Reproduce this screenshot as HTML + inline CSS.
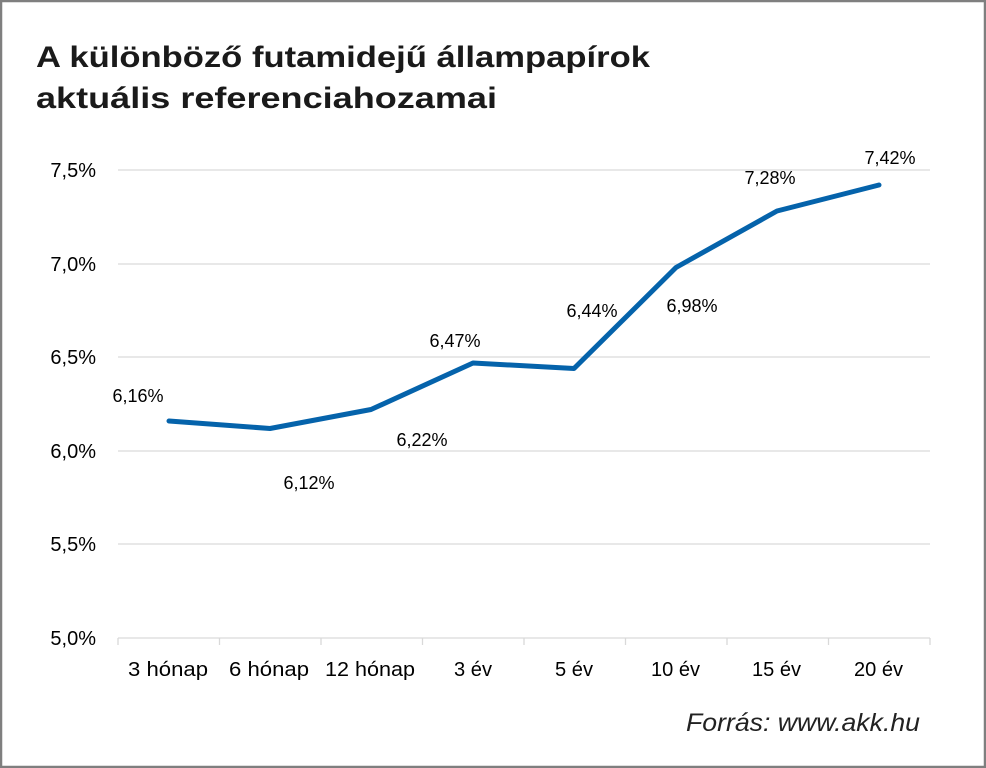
<!DOCTYPE html>
<html><head><meta charset="utf-8"><style>
html,body{margin:0;padding:0;background:#fff;}
svg{display:block;}
</style></head><body>
<svg width="986" height="768" viewBox="0 0 986 768" xmlns="http://www.w3.org/2000/svg">
<rect x="1" y="1" width="984" height="766" fill="#fff" stroke="#7f7f7f" stroke-width="2.5"/>
<g font-family="'Liberation Sans','DejaVu Sans',sans-serif" font-weight="bold" font-size="30" fill="#1a1a1a">
<text x="36" y="67" textLength="614" lengthAdjust="spacingAndGlyphs">A különböző futamidejű állampapírok</text>
<text x="36" y="108" textLength="461" lengthAdjust="spacingAndGlyphs">aktuális referenciahozamai</text>
</g>
<g stroke="#d9d9d9" stroke-width="1.3">
<line x1="118" y1="170" x2="930" y2="170"/>
<line x1="118" y1="264" x2="930" y2="264"/>
<line x1="118" y1="357" x2="930" y2="357"/>
<line x1="118" y1="451" x2="930" y2="451"/>
<line x1="118" y1="544" x2="930" y2="544"/>
<line x1="118" y1="638" x2="930" y2="638"/>
<line x1="118" y1="638" x2="118" y2="645"/>
<line x1="219.5" y1="638" x2="219.5" y2="645"/>
<line x1="321" y1="638" x2="321" y2="645"/>
<line x1="422.5" y1="638" x2="422.5" y2="645"/>
<line x1="524" y1="638" x2="524" y2="645"/>
<line x1="625.5" y1="638" x2="625.5" y2="645"/>
<line x1="727" y1="638" x2="727" y2="645"/>
<line x1="828.5" y1="638" x2="828.5" y2="645"/>
<line x1="930" y1="638" x2="930" y2="645"/>
</g>
<g font-family="'Liberation Sans','DejaVu Sans',sans-serif" font-size="20" fill="#000" text-anchor="end">
<text x="96" y="177">7,5%</text>
<text x="96" y="271">7,0%</text>
<text x="96" y="364">6,5%</text>
<text x="96" y="458">6,0%</text>
<text x="96" y="551">5,5%</text>
<text x="96" y="645">5,0%</text>
</g>
<g font-family="'Liberation Sans','DejaVu Sans',sans-serif" font-size="20" fill="#000">
<text x="128" y="676" textLength="80" lengthAdjust="spacingAndGlyphs">3 hónap</text>
<text x="229" y="676" textLength="80" lengthAdjust="spacingAndGlyphs">6 hónap</text>
<text x="325" y="676" textLength="90" lengthAdjust="spacingAndGlyphs">12 hónap</text>
<text x="454" y="676" textLength="38" lengthAdjust="spacingAndGlyphs">3 év</text>
<text x="555" y="676" textLength="38" lengthAdjust="spacingAndGlyphs">5 év</text>
<text x="651" y="676" textLength="49" lengthAdjust="spacingAndGlyphs">10 év</text>
<text x="752" y="676" textLength="49" lengthAdjust="spacingAndGlyphs">15 év</text>
<text x="854" y="676" textLength="49" lengthAdjust="spacingAndGlyphs">20 év</text>
</g>
<polyline points="169,421 270,428.5 371,409.5 473,363 574,368.5 676,267.5 777,211 879,185" fill="none" stroke="#0563ab" stroke-width="5" stroke-linejoin="round" stroke-linecap="round"/>
<g font-family="'Liberation Sans','DejaVu Sans',sans-serif" font-size="18" fill="#000" text-anchor="middle">
<text x="138" y="402">6,16%</text>
<text x="309" y="489">6,12%</text>
<text x="422" y="446">6,22%</text>
<text x="455" y="347">6,47%</text>
<text x="592" y="317">6,44%</text>
<text x="692" y="312">6,98%</text>
<text x="770" y="184">7,28%</text>
<text x="890" y="164">7,42%</text>
</g>
<text x="686" y="731" font-family="'Liberation Sans','DejaVu Sans',sans-serif" font-style="italic" font-size="25" fill="#222" textLength="234" lengthAdjust="spacingAndGlyphs">Forrás: www.akk.hu</text>
</svg>
</body></html>
